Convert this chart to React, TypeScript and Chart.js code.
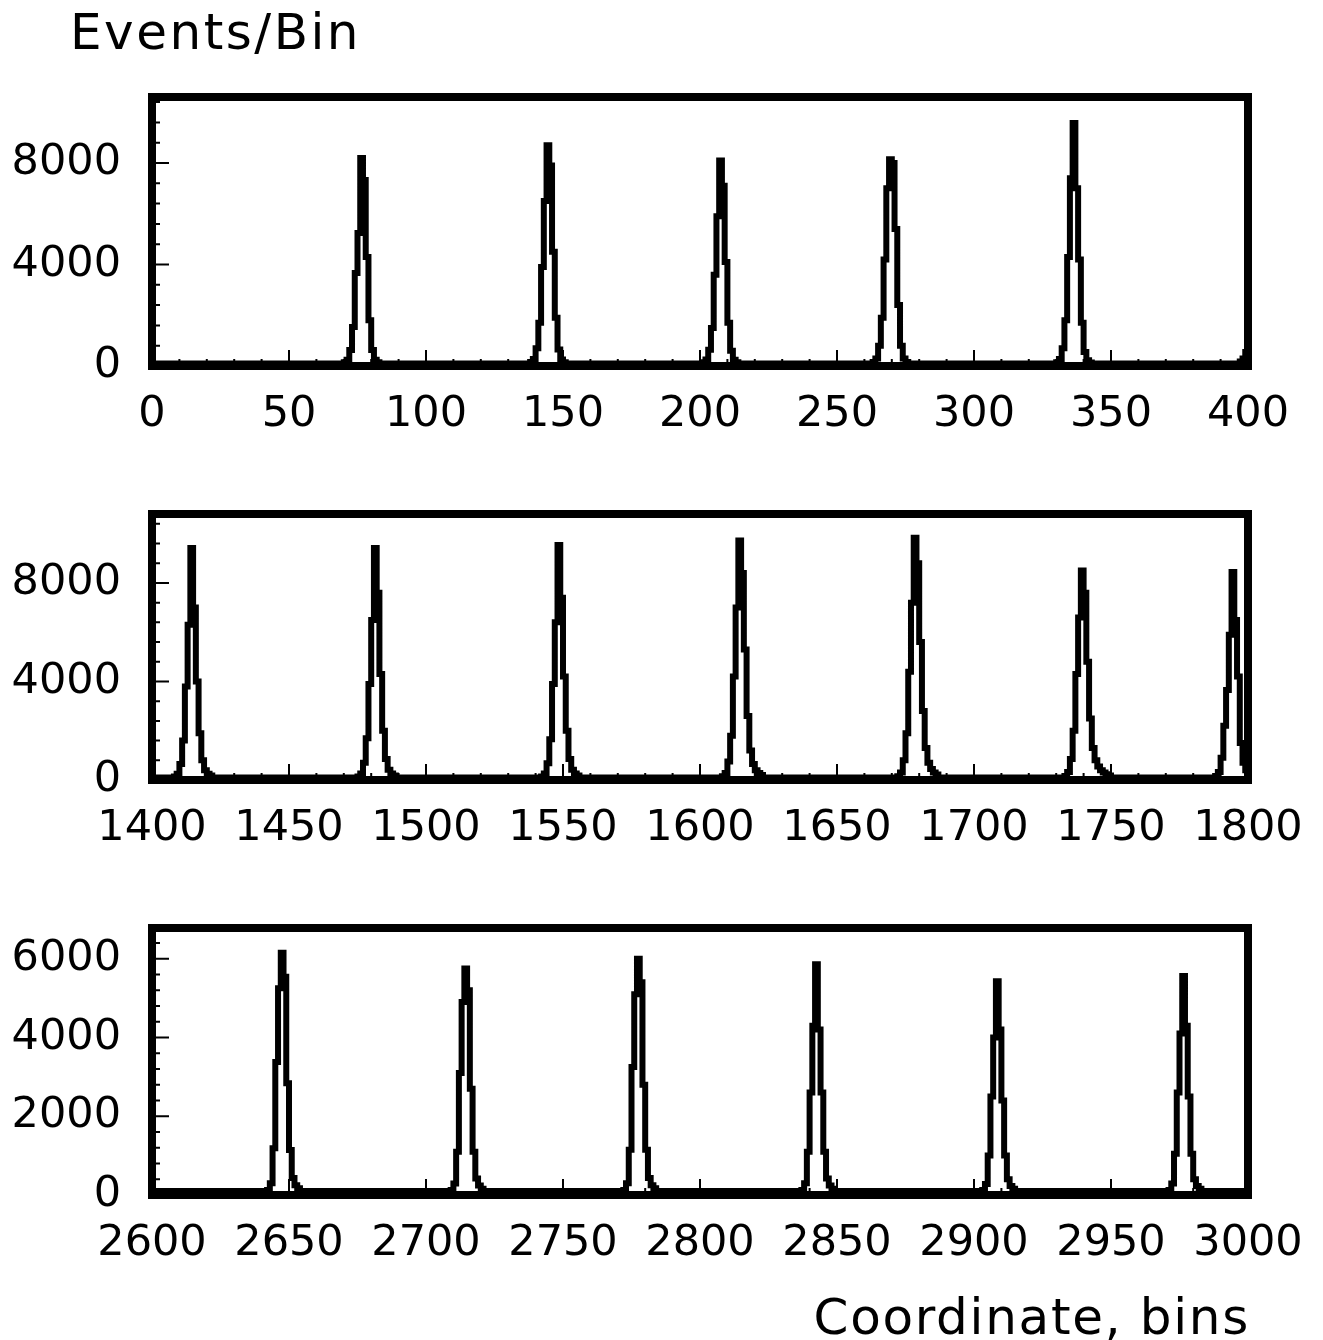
import React, { useEffect, useRef } from "react";
import { Chart, registerables } from "chart.js";

Chart.register(...registerables);

const FONT = "'DejaVu Sans', sans-serif";

// ---- Data ----
const BACKGROUND = 100; // counts per bin between peaks

// Panel 1: coordinate 0..400
const xTicks1 = [0, 50, 100, 150, 200, 250, 300, 350, 400];
const yTicks1 = [0, 4000, 8000];
const peakStarts1 = [70, 138, 201, 263, 330, 397];
const peakValues1 = [
  [150, 250, 630, 1540, 3660, 5240, 8200, 7330, 4300, 1800, 630, 250, 150],
  [160, 280, 700, 1700, 3900, 6500, 8700, 7900, 4500, 1900, 650, 260, 150],
  [150, 260, 640, 1500, 3600, 5900, 8100, 7100, 4100, 1700, 600, 250, 150],
  [160, 300, 800, 1900, 4200, 7000, 8150, 8000, 5400, 2400, 800, 300, 160],
  [150, 280, 700, 1800, 4300, 7400, 9580, 7000, 4200, 1700, 550, 230, 140],
  [180, 300, 550],
];

// Panel 2: coordinate 1400..1800
const xTicks2 = [1400, 1450, 1500, 1550, 1600, 1650, 1700, 1750, 1800];
const yTicks2 = [0, 4000, 8000];
const peakStarts2 = [1408, 1475, 1542, 1608, 1672, 1733, 1788];
const peakValues2 = [
  [140, 250, 650, 1600, 3800, 6300, 9420, 7000, 4000, 1900, 800, 400, 250, 180],
  [140, 260, 700, 1700, 3900, 6500, 9420, 7600, 4300, 2000, 850, 420, 260, 180],
  [140, 260, 680, 1650, 3900, 6400, 9540, 7400, 4200, 2000, 850, 420, 260, 180],
  [150, 280, 750, 1800, 4200, 7000, 9720, 8400, 5300, 2600, 1200, 650, 400, 280, 200],
  [150, 300, 800, 1900, 4400, 7200, 9840, 8800, 5600, 2800, 1300, 700, 450, 300, 220],
  [160, 320, 850, 2000, 4300, 6600, 8510, 7600, 4800, 2500, 1300, 800, 550, 400, 300, 230, 180],
  [160, 320, 900, 2200, 3650, 5900, 8450, 6500, 4200, 1500, 700, 400],
];

// Panel 3: coordinate 2600..3000
const xTicks3 = [2600, 2650, 2700, 2750, 2800, 2850, 2900, 2950, 3000];
const yTicks3 = [0, 2000, 4000, 6000];
const peakStarts3 = [2642, 2709, 2772, 2837, 2903, 2971];
const peakValues3 = [
  [130, 300, 1190, 3380, 5250, 6150, 5540, 2840, 1140, 430, 250, 170],
  [130, 290, 1100, 3100, 4900, 5750, 5200, 2700, 1100, 420, 240, 160],
  [130, 300, 1150, 3250, 5100, 6000, 5400, 2800, 1150, 430, 250, 170],
  [130, 300, 1100, 2600, 4300, 5860, 4200, 2600, 1100, 420, 240, 160],
  [130, 280, 1000, 2500, 4000, 5430, 4200, 2400, 1000, 400, 230, 160],
  [130, 290, 1050, 2600, 4100, 5560, 4300, 2500, 1050, 400, 230, 160],
];

function buildSeries(xMin: number, xMax: number, starts: number[], values: number[][]) {
  const n = xMax - xMin;
  const bins: number[] = new Array(n).fill(BACKGROUND);
  starts.forEach((s, p) => {
    values[p].forEach((v, k) => {
      const idx = s - xMin + k;
      if (idx >= 0 && idx < n) bins[idx] = v;
    });
  });
  const pts = bins.map((y, i) => ({ x: xMin + i + 0.5, y }));
  return [{ x: xMin, y: bins[0] }, ...pts, { x: xMax, y: bins[n - 1] }];
}

type PanelProps = {
  top: number;
  height: number;
  padTop: number;
  axisH: number;
  xMin: number;
  xMax: number;
  yMax: number;
  yMinor: number;
  yMajor: number;
  xTicks: number[];
  yTicks: number[];
  starts: number[];
  values: number[][];
};

function HistPanel(p: PanelProps) {
  const ref = useRef<HTMLCanvasElement>(null);
  useEffect(() => {
    if (!ref.current) return;
    const data = buildSeries(p.xMin, p.xMax, p.starts, p.values);
    const framePlugin = {
      id: "frame",
      afterDatasetsDraw(chart: any) {
        const { ctx, chartArea } = chart;
        const { left, right, top, bottom } = chartArea;
        const xs = chart.scales.x;
        const ys = chart.scales.y;
        ctx.save();
        ctx.strokeStyle = "#000";
        ctx.lineWidth = 2;
        ctx.beginPath();
        for (let v = p.xMin; v <= p.xMax; v += 10) {
          const px = xs.getPixelForValue(v);
          const len = (v - p.xMin) % 50 === 0 ? 16 : 7;
          ctx.moveTo(px, bottom);
          ctx.lineTo(px, bottom - len);
        }
        for (let v = 0; v <= p.yMax; v += p.yMinor) {
          const py = ys.getPixelForValue(v);
          const len = v % p.yMajor === 0 ? 17 : 8;
          ctx.moveTo(left, py);
          ctx.lineTo(left + len, py);
        }
        ctx.stroke();
        ctx.lineWidth = 8;
        ctx.strokeRect(left, top, right - left, bottom - top);
        ctx.restore();
      },
    };
    const chart = new Chart(ref.current, {
      type: "line",
      data: {
        datasets: [
          {
            data,
            borderColor: "#000",
            borderWidth: 6,
            stepped: "middle",
            pointRadius: 0,
            fill: false,
            tension: 0,
            borderJoinStyle: "miter",
          } as any,
        ],
      },
      options: {
        animation: false,
        responsive: false,
        maintainAspectRatio: false,
        layout: { padding: { top: p.padTop, right: 75, left: 0, bottom: 0 } },
        plugins: { legend: { display: false }, tooltip: { enabled: false } },
        scales: {
          x: {
            type: "linear",
            min: p.xMin,
            max: p.xMax,
            grid: { display: false },
            border: { display: false },
            afterBuildTicks: (s: any) => {
              s.ticks = p.xTicks.map((v) => ({ value: v }));
            },
            afterFit: (s: any) => {
              s.height = p.axisH;
            },
            ticks: {
              font: { family: FONT, size: 43 },
              color: "#000",
              padding: 15,
              maxRotation: 0,
              autoSkip: false,
              callback: (v: any) => String(v),
            },
          },
          y: {
            type: "linear",
            min: 0,
            max: p.yMax,
            grid: { display: false },
            border: { display: false },
            afterBuildTicks: (s: any) => {
              s.ticks = p.yTicks.map((v) => ({ value: v }));
            },
            afterFit: (s: any) => {
              s.width = 152;
            },
            ticks: {
              font: { family: FONT, size: 43 },
              color: "#000",
              padding: 23,
              autoSkip: false,
              callback: (v: any) => String(v),
            },
          },
        },
      } as any,
      plugins: [framePlugin],
    });
    return () => chart.destroy();
  }, []);
  return (
    <canvas
      ref={ref}
      width={1323}
      height={p.height}
      style={{ position: "absolute", left: 0, top: p.top, width: 1323, height: p.height }}
    />
  );
}

export default function App() {
  return (
    <div
      style={{
        position: "absolute",
        left: 0,
        top: 0,
        width: 1323,
        height: 1340,
        background: "#fff",
        overflow: "hidden",
      }}
    >
      <div
        style={{
          position: "absolute",
          left: 70,
          top: 7,
          font: `50px ${FONT}`,
          lineHeight: "50px",
          letterSpacing: "2.5px",
          whiteSpace: "nowrap",
          color: "#000",
        }}
      >
        Events/Bin
      </div>
      <HistPanel
        top={0}
        height={450}
        padTop={97}
        axisH={84}
        xMin={0}
        xMax={400}
        yMax={10600}
        yMinor={800}
        yMajor={4000}
        xTicks={xTicks1}
        yTicks={yTicks1}
        starts={peakStarts1}
        values={peakValues1}
      />
      <HistPanel
        top={460}
        height={400}
        padTop={54}
        axisH={80}
        xMin={1400}
        xMax={1800}
        yMax={10800}
        yMinor={800}
        yMajor={4000}
        xTicks={xTicks2}
        yTicks={yTicks2}
        starts={peakStarts2}
        values={peakValues2}
      />
      <HistPanel
        top={870}
        height={410}
        padTop={58}
        axisH={85}
        xMin={2600}
        xMax={3000}
        yMax={6780}
        yMinor={400}
        yMajor={2000}
        xTicks={xTicks3}
        yTicks={yTicks3}
        starts={peakStarts3}
        values={peakValues3}
      />
      <div
        style={{
          position: "absolute",
          right: 73,
          top: 1292,
          font: `50px ${FONT}`,
          lineHeight: "50px",
          letterSpacing: "1.7px",
          whiteSpace: "nowrap",
          color: "#000",
        }}
      >
        Coordinate, bins
      </div>
    </div>
  );
}
